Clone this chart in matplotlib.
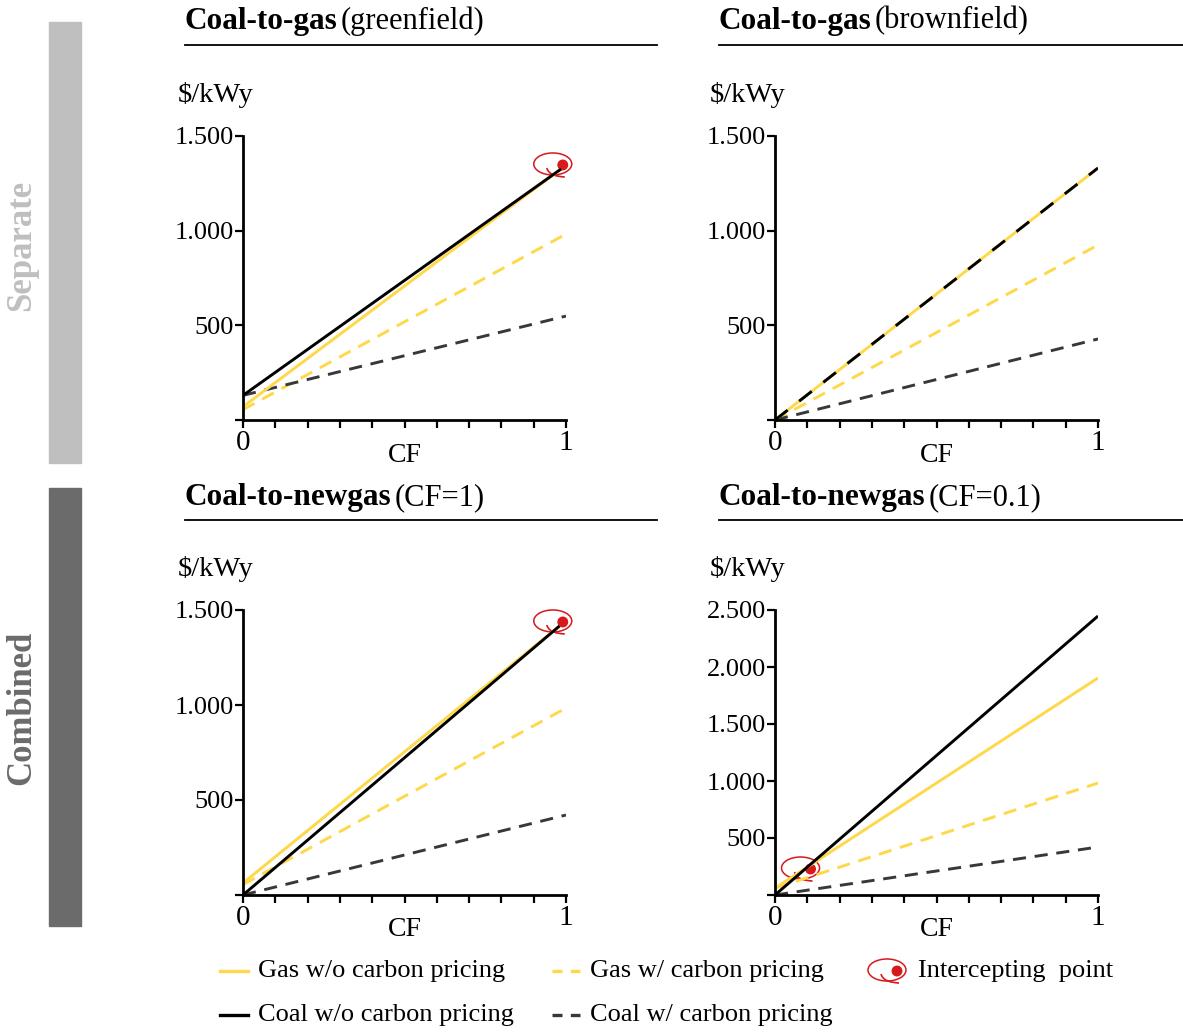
"""
Coal-to-gas cost comparison: four panels of $/kWy vs capacity factor
"""

import matplotlib
matplotlib.use("Agg")
import matplotlib.pyplot as plt
from matplotlib.patches import Ellipse, Rectangle, PathPatch
from matplotlib.path import Path
from matplotlib.lines import Line2D
import matplotlib.transforms as mtransforms
from matplotlib.ticker import FuncFormatter

plt.rcParams["font.family"] = ["Liberation Serif", "DejaVu Serif"]

W, H = 1183, 1032

# ---- data ----
panel_bold = ["Coal-to-gas", "Coal-to-gas", "Coal-to-newgas", "Coal-to-newgas"]
panel_rest = ["(greenfield)", "(brownfield)", "(CF=1)", "(CF=0.1)"]
y_max = [1500, 1500, 1500, 2500]

gas_wo_cf = [[0, 0.985], [0, 1], [0, 0.98], [0, 1]]
gas_wo_val = [[70, 1326], [0, 1331], [63, 1416], [60, 1904]]
gas_w_cf = [[0, 1], [0, 1], [0, 1], [0, 1]]
gas_w_val = [[55, 982], [0, 924], [55, 984], [60, 982]]
coal_wo_cf = [[0, 0.985], [0, 1], [0, 0.98], [0, 1]]
coal_wo_val = [[130, 1326], [0, 1331], [0, 1416], [0, 2447]]
coal_w_cf = [[0, 1], [0, 1], [0, 1], [0, 1]]
coal_w_val = [[130, 549], [0, 428], [0, 421], [0, 421]]
intercept = [(0.99, 1347), None, (0.99, 1437), (0.11, 228)]

legend_labels = ["Gas w/o carbon pricing", "Gas w/ carbon pricing", "Intercepting  point",
                 "Coal w/o carbon pricing", "Coal w/ carbon pricing"]

YELLOW = "#FFD84A"
DARK = "#383838"
RED = "#D7191C"
LW = 2.1


def fx(x):
    return x / W


def fy(y):
    return 1 - y / H


fig = plt.figure(figsize=(W / 100, H / 100), dpi=100)


def fmt_thousands(v, pos):
    if v == 0:
        return ""
    return f"{int(v):,}".replace(",", ".")


def draw_marker(ax, x, y):
    # red ellipse with a little hook and a dot, sized in pixels (1 inch = 100 px)
    tr = fig.dpi_scale_trans + mtransforms.ScaledTranslation(x, y, ax.transData)
    e = Ellipse((-0.10, 0.01), 0.38, 0.22, fill=False, edgecolor=RED, lw=1.1,
                transform=tr, clip_on=False)
    ax.add_artist(e)
    hook = Path([(-0.16, -0.03), (-0.14, -0.10), (-0.06, -0.115), (0.02, -0.12)],
                [Path.MOVETO, Path.CURVE4, Path.CURVE4, Path.CURVE4])
    ax.add_artist(PathPatch(hook, fill=False, edgecolor=RED, lw=1.2,
                            transform=tr, clip_on=False))
    dot = Ellipse((0, 0), 0.095, 0.095, color=RED, transform=tr, clip_on=False)
    ax.add_artist(dot)


lefts = [243, 775, 243, 775]
tops = [136, 136, 610, 610]
bottoms = [420, 420, 895, 895]
title_x = [185, 719, 185, 719]
title_y = [21, 21, 498, 498]
rule_y = [45, 45, 520, 520]
rule_end = [657, 1183, 657, 1183]

for i in range(4):
    l, t, b = lefts[i], tops[i], bottoms[i]
    ax = fig.add_axes([fx(l), fy(b), 323 / W, (b - t) / H])
    ax.plot(gas_w_cf[i], gas_w_val[i], color=YELLOW, lw=LW, dashes=(4.5, 3))
    ax.plot(coal_w_cf[i], coal_w_val[i], color=DARK, lw=LW, dashes=(4.5, 3))
    ax.plot(gas_wo_cf[i], gas_wo_val[i], color=YELLOW, lw=LW, solid_capstyle="butt")
    if i == 1:
        # coal w/o sits exactly on gas w/o here, drawn dashed on top
        ax.plot(coal_wo_cf[i], coal_wo_val[i], color="black", lw=LW, dashes=(5.5, 5))
    else:
        ax.plot(coal_wo_cf[i], coal_wo_val[i], color="black", lw=LW, solid_capstyle="butt")
    if intercept[i] is not None:
        draw_marker(ax, *intercept[i])

    ax.set_xlim(0, 1)
    ax.set_ylim(0, y_max[i])
    ax.set_xticks([0, 1])
    ax.set_xticks([k / 10 for k in range(11)], minor=True)
    ax.set_yticks(list(range(0, y_max[i] + 1, 500)))
    ax.yaxis.set_major_formatter(FuncFormatter(fmt_thousands))
    ax.set_xticklabels(["0", "1"])
    for s in ["top", "right"]:
        ax.spines[s].set_visible(False)
    for s in ["left", "bottom"]:
        ax.spines[s].set_linewidth(2)
    ax.tick_params(axis="y", which="major", length=6, width=1.6, pad=0.5, labelsize=19)
    ax.tick_params(axis="x", which="both", length=6, width=1.6, pad=1, labelsize=21)
    ax.text(0.5, -35 / (b - t), "CF", transform=ax.transAxes, ha="center", va="center", fontsize=20)
    fig.text(fx(l - 65), fy(t - 41), "$/kWy", ha="left", va="center", fontsize=20.5)

    tt = fig.text(fx(title_x[i]), fy(title_y[i]), panel_bold[i], ha="left", va="center",
                  fontsize=22.5, fontweight="bold")
    ax.annotate(panel_rest[i], xy=(1, 0), xycoords=tt, xytext=(3, 0), textcoords="offset pixels",
                ha="left", va="bottom", fontsize=22, annotation_clip=False)
    fig.add_artist(Line2D([fx(title_x[i]), fx(rule_end[i])], [fy(rule_y[i])] * 2,
                          color="black", lw=1.3, transform=fig.transFigure))

# side bars
fig.add_artist(Rectangle((fx(49), fy(463)), 32 / W, 441 / H, color="#BFBFBF",
                         transform=fig.transFigure))
fig.add_artist(Rectangle((fx(49), fy(926)), 32 / W, 438 / H, color="#6B6B6B",
                         transform=fig.transFigure))
fig.text(fx(22), fy(245), "Separate", rotation=90, ha="center", va="center",
         fontsize=25, fontweight="bold", color="#BFBFBF")
fig.text(fx(22), fy(708), "Combined", rotation=90, ha="center", va="center",
         fontsize=25, fontweight="bold", color="#6B6B6B")

# legend
leg_y = [971, 971, 971, 1015, 1015]
leg_x = [220, 552, 866, 220, 552]
leg_style = [(YELLOW, None), (YELLOW, (3, 2.5)), None, ("black", None), (DARK, (3, 2.5))]
for k in range(5):
    if leg_style[k] is None:
        continue
    c, d = leg_style[k]
    ln = Line2D([fx(leg_x[k]), fx(leg_x[k] + 28)], [fy(leg_y[k])] * 2, color=c, lw=2.4,
                transform=fig.transFigure)
    if d is not None:
        ln.set_dashes(d)
    fig.add_artist(ln)
leg_ax = fig.add_axes([0, 0, 1, 1], facecolor="none")
leg_ax.set_axis_off()
leg_ax.set_xlim(0, W)
leg_ax.set_ylim(H, 0)
draw_marker(leg_ax, 897, 971)
text_x = [258, 590, 918, 258, 590]
for k in range(5):
    fig.text(fx(text_x[k]), fy(leg_y[k]), legend_labels[k], ha="left", va="center", fontsize=19)

fig.savefig("out.png", dpi=100)
